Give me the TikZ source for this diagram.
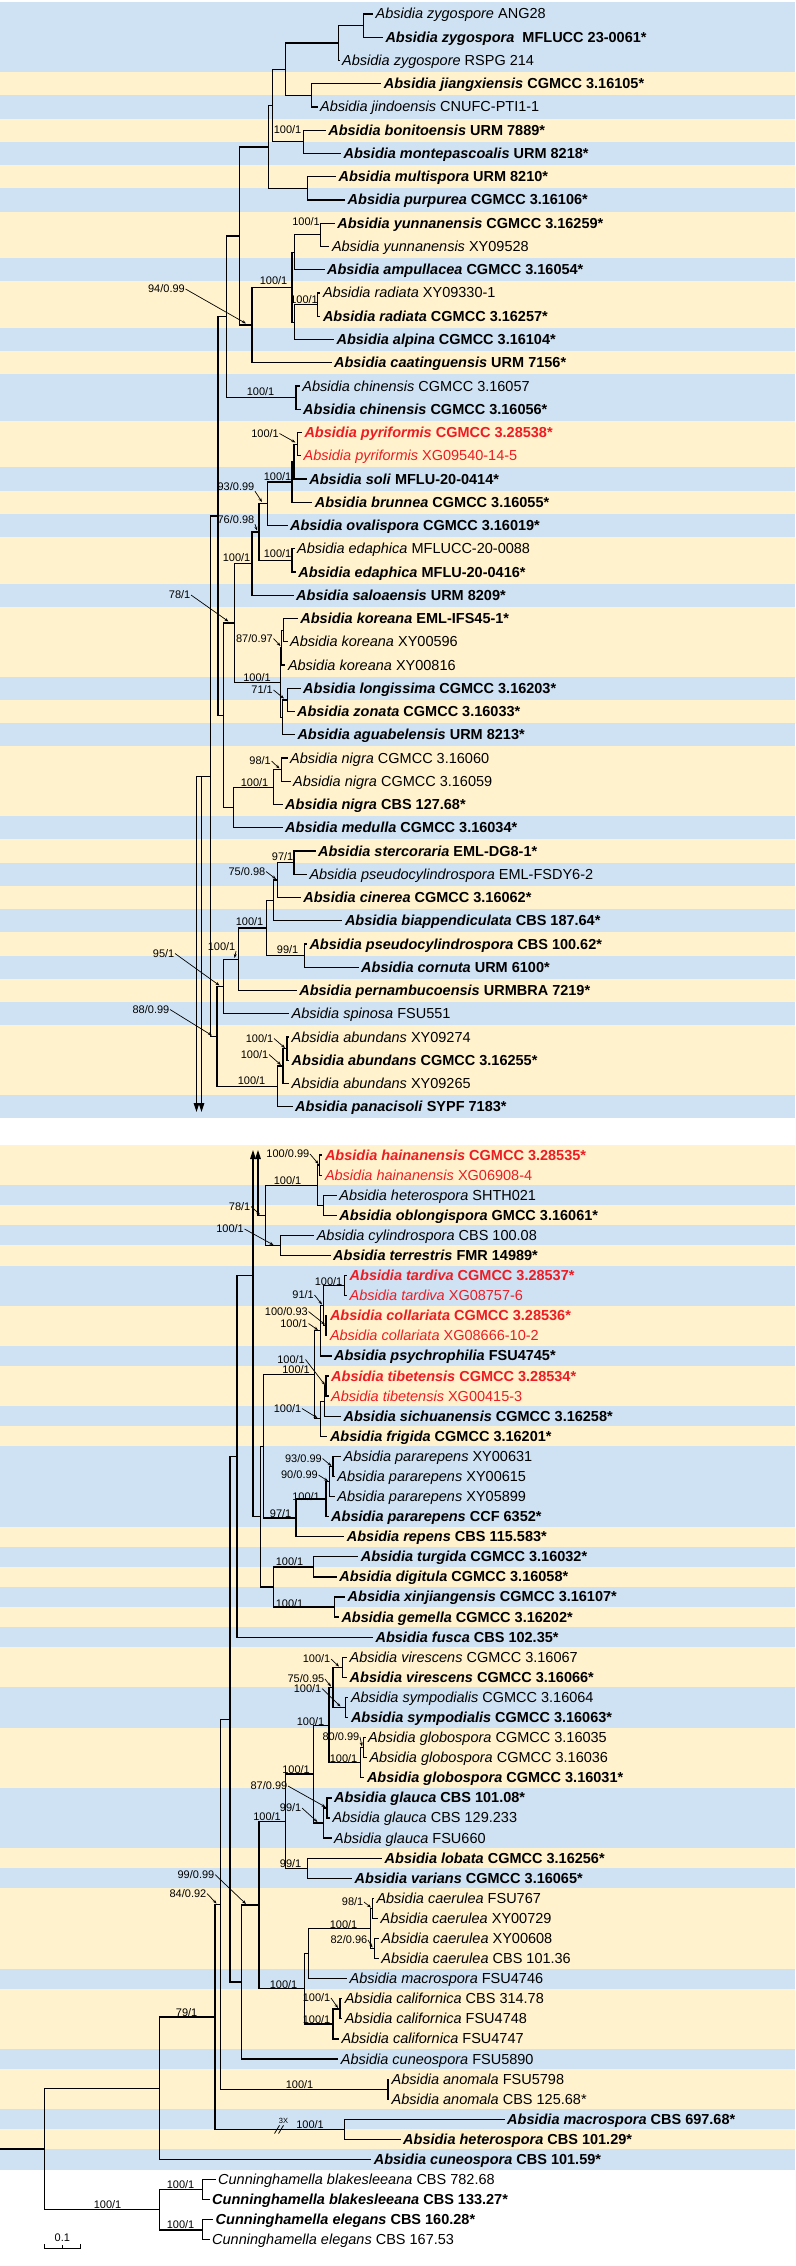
\documentclass[tikz,border=0pt]{standalone}
\usepackage{fontspec}
\setmainfont{Liberation Sans}
\usetikzlibrary{arrows.meta}
\definecolor{bandblue}{RGB}{207,226,243}
\definecolor{bandyel}{RGB}{255,242,204}
\definecolor{newred}{RGB}{237,28,36}
\newcommand{\AbS}[2]{\textit{Absidia #1} #2}
\newcommand{\CuS}[2]{\textit{Cunninghamella #1} #2}
\newcommand{\TLf}[5]{\pgfmathsetmacro{\yyT}{14+23.25*(#2-1)}\node[#5] (#1) at ({#3-3},\yyT) {#4};}
\newcommand{\BLf}[5]{\pgfmathsetmacro{\yyB}{1155+20.09*(#2-1)}\node[#5] (#1) at ({#3-3},\yyB) {#4};}
\newcommand{\TBand}[2]{\fill[bandblue] (0,{2.375+23.25*(#1-1)}) rectangle (795,{2.375+23.25*#2});}
\newcommand{\BBand}[2]{\fill[bandblue] (0,{1144.955+20.09*(#1-1)}) rectangle (795,{1144.955+20.09*#2});}
\newcommand{\ED}[2]{\draw[brl] (#1) |- (#2);}
\begin{document}
\begin{tikzpicture}[x=1pt,y=-1pt,
 brl/.style={line width=1.2pt,line cap=rect},
 leafn/.style={anchor=west,inner xsep=3pt,inner ysep=0pt,text height=13pt,text depth=3pt,font=\fontsize{14.5}{16}\selectfont},
 leafb/.style={leafn,font=\fontsize{14.5}{16}\selectfont\bfseries},
 leafr/.style={leafn,text=newred},
 leafrb/.style={leafb,text=newred},
 supl/.style={anchor=east,inner sep=0.5pt,font=\fontsize{11}{12}\selectfont},
 supa/.style={line width=0.7pt,-{Stealth[length=4pt,width=3pt]}},
 trunk/.style={line width=1.2pt,-{Triangle[length=9pt,width=5.5pt]}}]
\useasboundingbox (0,0) rectangle (795,2266);
\fill[white] (0,0) rectangle (795,2266);
% ---------- bands
\fill[bandyel] (0,2.375) rectangle (795,1118.375);
\TBand{1}{3}\TBand{5}{5}\TBand{7}{7}\TBand{9}{9}\TBand{12}{12}\TBand{15}{15}\TBand{17}{18}\TBand{21}{21}\TBand{23}{23}\TBand{26}{26}\TBand{30}{30}\TBand{32}{32}\TBand{36}{36}\TBand{38}{38}\TBand{40}{40}\TBand{42}{42}\TBand{44}{44}\TBand{48}{48}
\fill[bandyel] (0,1144.955) rectangle (795,2169.545);
\BBand{3}{3}\BBand{5}{5}\BBand{7}{8}\BBand{11}{11}\BBand{14}{14}\BBand{16}{19}\BBand{21}{21}\BBand{23}{23}\BBand{25}{25}\BBand{28}{29}\BBand{33}{35}\BBand{37}{37}\BBand{42}{42}\BBand{46}{46}\BBand{49}{49}\BBand{51}{51}
% ---------- top leaves
\TLf{t1}{1}{375.4}{\AbS{zygospore}{ANG28}}{leafn}
\TLf{t2}{2}{385.3}{\AbS{zygospora}{~MFLUCC 23-0061*}}{leafb}
\TLf{t3}{3}{342}{\AbS{zygospore}{RSPG 214}}{leafn}
\TLf{t4}{4}{383.7}{\AbS{jiangxiensis}{CGMCC 3.16105*}}{leafb}
\TLf{t5}{5}{319.9}{\AbS{jindoensis}{CNUFC-PTI1-1}}{leafn}
\TLf{t6}{6}{328.1}{\AbS{bonitoensis}{URM 7889*}}{leafb}
\TLf{t7}{7}{343.4}{\AbS{montepascoalis}{URM 8218*}}{leafb}
\TLf{t8}{8}{338.4}{\AbS{multispora}{URM 8210*}}{leafb}
\TLf{t9}{9}{347.5}{\AbS{purpurea}{CGMCC 3.16106*}}{leafb}
\TLf{t10}{10}{337.2}{\AbS{yunnanensis}{CGMCC 3.16259*}}{leafb}
\TLf{t11}{11}{331.8}{\AbS{yunnanensis}{XY09528}}{leafn}
\TLf{t12}{12}{326.9}{\AbS{ampullacea}{CGMCC 3.16054*}}{leafb}
\TLf{t13}{13}{322.8}{\AbS{radiata}{XY09330-1}}{leafn}
\TLf{t14}{14}{322.8}{\AbS{radiata}{CGMCC 3.16257*}}{leafb}
\TLf{t15}{15}{336.4}{\AbS{alpina}{CGMCC 3.16104*}}{leafb}
\TLf{t16}{16}{333.9}{\AbS{caatinguensis}{URM 7156*}}{leafb}
\TLf{t17}{17}{302.2}{\AbS{chinensis}{CGMCC 3.16057}}{leafn}
\TLf{t18}{18}{303}{\AbS{chinensis}{CGMCC 3.16056*}}{leafb}
\TLf{t19}{19}{304.3}{\AbS{pyriformis}{CGMCC 3.28538*}}{leafrb}
\TLf{t20}{20}{303.5}{\AbS{pyriformis}{XG09540-14-5}}{leafr}
\TLf{t21}{21}{309.2}{\AbS{soli}{MFLU-20-0414*}}{leafb}
\TLf{t22}{22}{314.6}{\AbS{brunnea}{CGMCC 3.16055*}}{leafb}
\TLf{t23}{23}{289.9}{\AbS{ovalispora}{CGMCC 3.16019*}}{leafb}
\TLf{t24}{24}{296.9}{\AbS{edaphica}{MFLUCC-20-0088}}{leafn}
\TLf{t25}{25}{298.1}{\AbS{edaphica}{MFLU-20-0416*}}{leafb}
\TLf{t26}{26}{296}{\AbS{saloaensis}{URM 8209*}}{leafb}
\TLf{t27}{27}{300.2}{\AbS{koreana}{EML-IFS45-1*}}{leafb}
\TLf{t28}{28}{289.9}{\AbS{koreana}{XY00596}}{leafn}
\TLf{t29}{29}{287.8}{\AbS{koreana}{XY00816}}{leafn}
\TLf{t30}{30}{303}{\AbS{longissima}{CGMCC 3.16203*}}{leafb}
\TLf{t31}{31}{296.9}{\AbS{zonata}{CGMCC 3.16033*}}{leafb}
\TLf{t32}{32}{297.3}{\AbS{aguabelensis}{URM 8213*}}{leafb}
\TLf{t33}{33}{289.9}{\AbS{nigra}{CGMCC 3.16060}}{leafn}
\TLf{t34}{34}{293}{\AbS{nigra}{CGMCC 3.16059}}{leafn}
\TLf{t35}{35}{285}{\AbS{nigra}{CBS 127.68*}}{leafb}
\TLf{t36}{36}{285}{\AbS{medulla}{CGMCC 3.16034*}}{leafb}
\TLf{t37}{37}{317.9}{\AbS{stercoraria}{EML-DG8-1*}}{leafb}
\TLf{t38}{38}{309.3}{\AbS{pseudocylindrospora}{EML-FSDY6-2}}{leafn}
\TLf{t39}{39}{303.2}{\AbS{cinerea}{CGMCC 3.16062*}}{leafb}
\TLf{t40}{40}{344.8}{\AbS{biappendiculata}{CBS 187.64*}}{leafb}
\TLf{t41}{41}{309.3}{\AbS{pseudocylindrospora}{CBS 100.62*}}{leafb}
\TLf{t42}{42}{361}{\AbS{cornuta}{URM 6100*}}{leafb}
\TLf{t43}{43}{299.1}{\AbS{pernambucoensis}{URMBRA 7219*}}{leafb}
\TLf{t44}{44}{291.5}{\AbS{spinosa}{FSU551}}{leafn}
\TLf{t45}{45}{291.5}{\AbS{abundans}{XY09274}}{leafn}
\TLf{t46}{46}{291.5}{\AbS{abundans}{CGMCC 3.16255*}}{leafb}
\TLf{t47}{47}{291.5}{\AbS{abundans}{XY09265}}{leafn}
\TLf{t48}{48}{295}{\AbS{panacisoli}{SYPF 7183*}}{leafb}
% ---------- top internal nodes
\coordinate (nA1) at (363.1,25.6);
\coordinate (nA2) at (338.4,43.1);
\coordinate (nJ1) at (311.7,95.4);
\coordinate (nA3) at (285.8,69.2);
\coordinate (nBo) at (303.5,141.9);
\coordinate (nA4) at (272.6,105.5);
\coordinate (nMu) at (307.6,188.4);
\coordinate (nA5) at (268.5,147);
\coordinate (nYu) at (320.7,234.9);
\coordinate (nC1) at (294.8,252.3);
\coordinate (nRa) at (317.8,304.6);
\coordinate (nC2) at (294.8,322.1);
\coordinate (nC) at (291.9,287.2);
\coordinate (nB) at (252,325);
\coordinate (nA6) at (239.7,236);
\coordinate (nCh) at (296,397.6);
\coordinate (nD) at (226.1,316.8);
\coordinate (nPy) at (297.3,444.1);
\coordinate (nP2) at (294,461.6);
\coordinate (nL) at (292,481.9);
\coordinate (nK) at (267.2,503.7);
\coordinate (nEd) at (292,560.4);
\coordinate (nJ) at (259,532);
\coordinate (nI) at (252,563.6);
\coordinate (nKa) at (283.7,630.1);
\coordinate (nKb) at (281.6,647.6);
\coordinate (nLz) at (287.8,699.9);
\coordinate (nLy) at (282.5,717.3);
\coordinate (nKo) at (280.8,682.4);
\coordinate (nH) at (234.3,623);
\coordinate (nN1) at (281.6,769.6);
\coordinate (nN2) at (273.8,787.1);
\coordinate (nM) at (233.2,807.4);
\coordinate (nG) at (223.2,715.2);
\coordinate (nE) at (217.9,516);
\coordinate (nX) at (294,862.6);
\coordinate (nW) at (277.8,880);
\coordinate (nV) at (273.8,900.4);
\coordinate (nU) at (304.2,955.6);
\coordinate (nT) at (266.2,928);
\coordinate (nS) at (238.8,959.3);
\coordinate (nR) at (223.1,986.5);
\coordinate (nAb1) at (287,1048.6);
\coordinate (nAb2) at (283,1066);
\coordinate (nAb3) at (277.8,1086.4);
\coordinate (nQ) at (217,1036.5);
\coordinate (nF) at (210.4,776.3);
\coordinate (tk2) at (196.5,776.3);
\coordinate (tk3) at (201.5,776.3);
\coordinate (tk2t) at (196.5,1112);
\coordinate (tk3t) at (201.5,1112);
% ---------- top edges
\ED{nA1}{t1.west}\ED{nA1}{t2.west}\ED{nA2}{nA1}\ED{nA2}{t3.west}
\ED{nJ1}{t4.west}\ED{nJ1}{t5.west}\ED{nA3}{nA2}\ED{nA3}{nJ1}
\ED{nBo}{t6.west}\ED{nBo}{t7.west}\ED{nA4}{nA3}\ED{nA4}{nBo}
\ED{nMu}{t8.west}\ED{nMu}{t9.west}\ED{nA5}{nA4}\ED{nA5}{nMu}
\ED{nYu}{t10.west}\ED{nYu}{t11.west}\ED{nC1}{nYu}\ED{nC1}{t12.west}
\ED{nRa}{t13.west}\ED{nRa}{t14.west}\ED{nC2}{nRa}\ED{nC2}{t15.west}
\ED{nC}{nC1}\ED{nC}{nC2}\ED{nB}{nC}\ED{nB}{t16.west}
\ED{nA6}{nA5}\ED{nA6}{nB}
\ED{nCh}{t17.west}\ED{nCh}{t18.west}\ED{nD}{nA6}\ED{nD}{nCh}
\ED{nPy}{t19.west}\ED{nPy}{t20.west}\ED{nP2}{nPy}\ED{nP2}{t21.west}
\ED{nL}{nP2}\ED{nL}{t22.west}\ED{nK}{nL}\ED{nK}{t23.west}
\ED{nEd}{t24.west}\ED{nEd}{t25.west}\ED{nJ}{nK}\ED{nJ}{nEd}
\ED{nI}{nJ}\ED{nI}{t26.west}
\ED{nKa}{t27.west}\ED{nKa}{t28.west}\ED{nKb}{nKa}\ED{nKb}{t29.west}
\ED{nLz}{t30.west}\ED{nLz}{t31.west}\ED{nLy}{nLz}\ED{nLy}{t32.west}
\ED{nKo}{nKb}\ED{nKo}{nLy}\ED{nH}{nI}\ED{nH}{nKo}
\ED{nN1}{t33.west}\ED{nN1}{t34.west}\ED{nN2}{nN1}\ED{nN2}{t35.west}
\ED{nM}{nN2}\ED{nM}{t36.west}\ED{nG}{nH}\ED{nG}{nM}
\ED{nE}{nD}\ED{nE}{nG}
\ED{nX}{t37.west}\ED{nX}{t38.west}\ED{nW}{nX}\ED{nW}{t39.west}
\ED{nV}{nW}\ED{nV}{t40.west}\ED{nU}{t41.west}\ED{nU}{t42.west}
\ED{nT}{nV}\ED{nT}{nU}\ED{nS}{nT}\ED{nS}{t43.west}
\ED{nR}{nS}\ED{nR}{t44.west}
\ED{nAb1}{t45.west}\ED{nAb1}{t46.west}\ED{nAb2}{nAb1}\ED{nAb2}{t47.west}
\ED{nAb3}{nAb2}\ED{nAb3}{t48.west}
\ED{nQ}{nR}\ED{nQ}{nAb3}\ED{nF}{nE}\ED{nF}{nQ}
\draw[brl] (tk2) -- (nF);
\draw[trunk] (tk2) -- (tk2t);
\draw[trunk] (tk3) -- (tk3t);
% ---------- top support values
\node[supl] (s1) at (302,130) {100/1};
\node[supl] (s2) at (320.5,222) {100/1};
\node[supl] (s3) at (288,280.5) {100/1};
\node[supl] (s4) at (318.5,299.5) {100/1};
\node[supl] (s5) at (185.5,289) {94/0.99};
\node[supl] (s6) at (275,391.5) {100/1};
\node[supl] (s7) at (279.5,433.5) {100/1};
\node[supl] (s8) at (292,476.5) {100/1};
\node[supl] (s9) at (255,486.5) {93/0.99};
\node[supl] (s10) at (255,519.5) {76/0.98};
\node[supl] (s11) at (251,558) {100/1};
\node[supl] (s12) at (292,553.5) {100/1};
\node[supl] (s13) at (191,595) {78/1};
\node[supl] (s14) at (273.5,638.5) {87/0.97};
\node[supl] (s15) at (271.5,677.5) {100/1};
\node[supl] (s16) at (273.5,690) {71/1};
\node[supl] (s17) at (271.5,761) {98/1};
\node[supl] (s18) at (269,783) {100/1};
\node[supl] (s19) at (294,856.5) {97/1};
\node[supl] (s20) at (266,871.5) {75/0.98};
\node[supl] (s21) at (264,922) {100/1};
\node[supl] (s22) at (299,949.5) {99/1};
\node[supl] (s23) at (236,946.5) {100/1};
\node[supl] (s24) at (175,953.5) {95/1};
\node[supl] (s25) at (170,1009.5) {88/0.99};
\node[supl] (s26) at (274,1038.5) {100/1};
\node[supl] (s27) at (269,1054.5) {100/1};
\node[supl] (s28) at (266,1080.5) {100/1};
\coordinate (a5) at (246,323.5);
\coordinate (a7) at (295.5,442.5);
\coordinate (a9) at (262,502);
\coordinate (a10) at (257,530.5);
\coordinate (a13) at (228.5,621.5);
\coordinate (a14) at (280.5,646);
\coordinate (a16) at (284,698.5);
\coordinate (a17) at (279.5,768.5);
\coordinate (a20) at (276,879);
\coordinate (a23) at (234.5,958);
\coordinate (a24) at (219.5,985.5);
\coordinate (a25) at (212,1035.5);
\coordinate (a26) at (285,1048);
\coordinate (a27) at (281,1065);
\draw[supa] (s5.east) -- (a5);
\draw[supa] (s7.east) -- (a7);
\draw[supa] (s9.south east) -- (a9);
\draw[supa] (s10.south east) -- (a10);
\draw[supa] (s13.east) -- (a13);
\draw[supa] (s14.east) -- (a14);
\draw[supa] (s16.east) -- (a16);
\draw[supa] (s17.east) -- (a17);
\draw[supa] (s20.east) -- (a20);
\draw[supa] (s23.south east) -- (a23);
\draw[supa] (s24.east) -- (a24);
\draw[supa] (s25.east) -- (a25);
\draw[supa] (s26.east) -- (a26);
\draw[supa] (s27.east) -- (a27);
% ---------- bottom leaves
\BLf{b1}{1}{324.8}{\AbS{hainanensis}{CGMCC 3.28535*}}{leafrb}
\BLf{b2}{2}{324.8}{\AbS{hainanensis}{XG06908-4}}{leafr}
\BLf{b3}{3}{339.2}{\AbS{heterospora}{SHTH021}}{leafn}
\BLf{b4}{4}{339.2}{\AbS{oblongispora}{GMCC 3.16061*}}{leafb}
\BLf{b5}{5}{316.6}{\AbS{cylindrospora}{CBS 100.08}}{leafn}
\BLf{b6}{6}{333}{\AbS{terrestris}{FMR 14989*}}{leafb}
\BLf{b7}{7}{349.5}{\AbS{tardiva}{CGMCC 3.28537*}}{leafrb}
\BLf{b8}{8}{349.5}{\AbS{tardiva}{XG08757-6}}{leafr}
\BLf{b9}{9}{329.8}{\AbS{collariata}{CGMCC 3.28536*}}{leafrb}
\BLf{b10}{10}{329.8}{\AbS{collariata}{XG08666-10-2}}{leafr}
\BLf{b11}{11}{333.9}{\AbS{psychrophilia}{FSU4745*}}{leafb}
\BLf{b12}{12}{331}{\AbS{tibetensis}{CGMCC 3.28534*}}{leafrb}
\BLf{b13}{13}{331}{\AbS{tibetensis}{XG00415-3}}{leafr}
\BLf{b14}{14}{343.4}{\AbS{sichuanensis}{CGMCC 3.16258*}}{leafb}
\BLf{b15}{15}{329.8}{\AbS{frigida}{CGMCC 3.16201*}}{leafb}
\BLf{b16}{16}{343.4}{\AbS{pararepens}{XY00631}}{leafn}
\BLf{b17}{17}{337.2}{\AbS{pararepens}{XY00615}}{leafn}
\BLf{b18}{18}{337.2}{\AbS{pararepens}{XY05899}}{leafn}
\BLf{b19}{19}{331}{\AbS{pararepens}{CCF 6352*}}{leafb}
\BLf{b20}{20}{346.7}{\AbS{repens}{CBS 115.583*}}{leafb}
\BLf{b21}{21}{360.6}{\AbS{turgida}{CGMCC 3.16032*}}{leafb}
\BLf{b22}{22}{339.2}{\AbS{digitula}{CGMCC 3.16058*}}{leafb}
\BLf{b23}{23}{347.5}{\AbS{xinjiangensis}{CGMCC 3.16107*}}{leafb}
\BLf{b24}{24}{341.3}{\AbS{gemella}{CGMCC 3.16202*}}{leafb}
\BLf{b25}{25}{375.4}{\AbS{fusca}{CBS 102.35*}}{leafb}
\BLf{b26}{26}{349.5}{\AbS{virescens}{CGMCC 3.16067}}{leafn}
\BLf{b27}{27}{349.5}{\AbS{virescens}{CGMCC 3.16066*}}{leafb}
\BLf{b28}{28}{350.8}{\AbS{sympodialis}{CGMCC 3.16064}}{leafn}
\BLf{b29}{29}{350.8}{\AbS{sympodialis}{CGMCC 3.16063*}}{leafb}
\BLf{b30}{30}{368}{\AbS{globospora}{CGMCC 3.16035}}{leafn}
\BLf{b31}{31}{369.3}{\AbS{globospora}{CGMCC 3.16036}}{leafn}
\BLf{b32}{32}{366.8}{\AbS{globospora}{CGMCC 3.16031*}}{leafb}
\BLf{b33}{33}{333.9}{\AbS{glauca}{CBS 101.08*}}{leafb}
\BLf{b34}{34}{332.3}{\AbS{glauca}{CBS 129.233}}{leafn}
\BLf{b35}{35}{333.9}{\AbS{glauca}{FSU660}}{leafn}
\BLf{b36}{36}{384.5}{\AbS{lobata}{CGMCC 3.16256*}}{leafb}
\BLf{b37}{37}{354.5}{\AbS{varians}{CGMCC 3.16065*}}{leafb}
\BLf{b38}{38}{376.3}{\AbS{caerulea}{FSU767}}{leafn}
\BLf{b39}{39}{380.4}{\AbS{caerulea}{XY00729}}{leafn}
\BLf{b40}{40}{381.2}{\AbS{caerulea}{XY00608}}{leafn}
\BLf{b41}{41}{381.2}{\AbS{caerulea}{CBS 101.36}}{leafn}
\BLf{b42}{42}{349.5}{\AbS{macrospora}{FSU4746}}{leafn}
\BLf{b43}{43}{344.6}{\AbS{californica}{CBS 314.78}}{leafn}
\BLf{b44}{44}{344.6}{\AbS{californica}{FSU4748}}{leafn}
\BLf{b45}{45}{341.3}{\AbS{californica}{FSU4747}}{leafn}
\BLf{b46}{46}{340.7}{\AbS{cuneospora}{FSU5890}}{leafn}
\BLf{b47}{47}{391.4}{\AbS{anomala}{FSU5798}}{leafn}
\BLf{b48}{48}{391.4}{\AbS{anomala}{CBS 125.68*}}{leafn}
\BLf{b49}{49}{507}{\AbS{macrospora}{CBS 697.68*}}{leafb}
\BLf{b50}{50}{403}{\AbS{heterospora}{CBS 101.29*}}{leafb}
\BLf{b51}{51}{373.6}{\AbS{cuneospora}{CBS 101.59*}}{leafb}
\BLf{b52}{52}{218}{\CuS{blakesleeana}{CBS 782.68}}{leafn}
\BLf{b53}{53}{212}{\CuS{blakesleeana}{CBS 133.27*}}{leafb}
\BLf{b54}{54}{215.5}{\CuS{elegans}{CBS 160.28*}}{leafb}
\BLf{b55}{55}{212}{\CuS{elegans}{CBS 167.53}}{leafn}
% ---------- bottom internal nodes
\coordinate (mHa) at (319.5,1165);
\coordinate (mHO) at (323.6,1205.3);
\coordinate (mH1) at (317.8,1185.1);
\coordinate (mCT) at (280.8,1245.5);
\coordinate (mH2) at (265.2,1215.3);
\coordinate (mTa) at (344.2,1285.6);
\coordinate (mCo) at (326,1325.8);
\coordinate (mTc) at (323.6,1305.7);
\coordinate (mPs) at (320.7,1330.8);
\coordinate (mTi) at (326,1386);
\coordinate (mTb) at (324.8,1401.1);
\coordinate (mFr) at (320.7,1418.7);
\coordinate (mPF) at (314.6,1374.8);
\coordinate (mPa1) at (333,1466.4);
\coordinate (mPa2) at (329.5,1481.5);
\coordinate (mPa3) at (326,1499);
\coordinate (mRe) at (296,1517.9);
\coordinate (mK5) at (263.1,1446.3);
\coordinate (mTu) at (313.7,1566.9);
\coordinate (mXg) at (334.3,1607);
\coordinate (mTX) at (273.4,1587);
\coordinate (mK6) at (260.7,1516.7);
\coordinate (mK1) at (237,1456.5);
\coordinate (mVi) at (342.5,1667.3);
\coordinate (mSy) at (345.4,1707.5);
\coordinate (mN9) at (333,1687.4);
\coordinate (mGl2) at (363.1,1747.7);
\coordinate (mGl) at (360.6,1762.8);
\coordinate (mN8) at (329,1725.1);
\coordinate (mGa2) at (326.9,1808);
\coordinate (mGa1) at (323.6,1823);
\coordinate (mN7) at (313.7,1774);
\coordinate (mLV) at (307.6,1868.2);
\coordinate (mN6) at (285.8,1821.1);
\coordinate (mCa1) at (372.2,1908.4);
\coordinate (mCa2) at (374.2,1948.6);
\coordinate (mCa) at (370.1,1928.5);
\coordinate (mCM) at (308.4,1953.6);
\coordinate (mCf1) at (340,2008.9);
\coordinate (mCf) at (333,2024);
\coordinate (mCC) at (304.3,1988.8);
\coordinate (mN5) at (259,1905);
\coordinate (mN4) at (241.3,1982);
\coordinate (mN3) at (230,1719.3);
\coordinate (mAn) at (387.9,2089.2);
\coordinate (mN2) at (220.5,1904.3);
\coordinate (mMH) at (344.8,2129.4);
\coordinate (mN1) at (215,2016.9);
\coordinate (mN79) at (159.7,2088.2);
\coordinate (mCb) at (202.8,2189.7);
\coordinate (mCe) at (202.8,2229.9);
\coordinate (mCU) at (159.7,2209.8);
\coordinate (mRoot) at (44.6,2149);
\coordinate (mStem) at (0,2149);
\coordinate (c2) at (253,1516.7);
\coordinate (c2k) at (253,1275.7);
\coordinate (c3) at (258,1215.3);
\coordinate (u2t) at (253,1150);
\coordinate (u3t) at (258,1150);
% ---------- bottom edges
\ED{mHa}{b1.west}\ED{mHa}{b2.west}\ED{mHO}{b3.west}\ED{mHO}{b4.west}
\ED{mH1}{mHa}\ED{mH1}{mHO}\ED{mCT}{b5.west}\ED{mCT}{b6.west}
\ED{mH2}{mH1}\ED{mH2}{mCT}
\ED{mTa}{b7.west}\ED{mTa}{b8.west}\ED{mCo}{b9.west}\ED{mCo}{b10.west}
\ED{mTc}{mTa}\ED{mTc}{mCo}\ED{mPs}{mTc}\ED{mPs}{b11.west}
\ED{mTi}{b12.west}\ED{mTi}{b13.west}\ED{mTb}{mTi}\ED{mTb}{b14.west}
\ED{mFr}{mTb}\ED{mFr}{b15.west}\ED{mPF}{mPs}\ED{mPF}{mFr}
\ED{mPa1}{b16.west}\ED{mPa1}{b17.west}\ED{mPa2}{mPa1}\ED{mPa2}{b18.west}
\ED{mPa3}{mPa2}\ED{mPa3}{b19.west}\ED{mRe}{mPa3}\ED{mRe}{b20.west}
\ED{mK5}{mPF}\ED{mK5}{mRe}
\ED{mTu}{b21.west}\ED{mTu}{b22.west}\ED{mXg}{b23.west}\ED{mXg}{b24.west}
\ED{mTX}{mTu}\ED{mTX}{mXg}\ED{mK6}{mK5}\ED{mK6}{mTX}
\ED{mK1}{c2k}\ED{mK1}{b25.west}
\ED{mVi}{b26.west}\ED{mVi}{b27.west}\ED{mSy}{b28.west}\ED{mSy}{b29.west}
\ED{mN9}{mVi}\ED{mN9}{mSy}
\ED{mGl2}{b30.west}\ED{mGl2}{b31.west}\ED{mGl}{mGl2}\ED{mGl}{b32.west}
\ED{mN8}{mN9}\ED{mN8}{mGl}
\ED{mGa2}{b33.west}\ED{mGa2}{b34.west}\ED{mGa1}{mGa2}\ED{mGa1}{b35.west}
\ED{mN7}{mN8}\ED{mN7}{mGa1}
\ED{mLV}{b36.west}\ED{mLV}{b37.west}\ED{mN6}{mN7}\ED{mN6}{mLV}
\ED{mCa1}{b38.west}\ED{mCa1}{b39.west}\ED{mCa2}{b40.west}\ED{mCa2}{b41.west}
\ED{mCa}{mCa1}\ED{mCa}{mCa2}\ED{mCM}{mCa}\ED{mCM}{b42.west}
\ED{mCf1}{b43.west}\ED{mCf1}{b44.west}\ED{mCf}{mCf1}\ED{mCf}{b45.west}
\ED{mCC}{mCM}\ED{mCC}{mCf}\ED{mN5}{mN6}\ED{mN5}{mCC}
\ED{mN4}{mN5}\ED{mN4}{b46.west}\ED{mN3}{mK1}\ED{mN3}{mN4}
\ED{mAn}{b47.west}\ED{mAn}{b48.west}\ED{mN2}{mN3}\ED{mN2}{mAn}
\ED{mMH}{b49.west}\ED{mMH}{b50.west}\ED{mN1}{mN2}\ED{mN1}{mMH}
\ED{mN79}{mN1}\ED{mN79}{b51.west}
\ED{mCb}{b52.west}\ED{mCb}{b53.west}\ED{mCe}{b54.west}\ED{mCe}{b55.west}
\ED{mCU}{mCb}\ED{mCU}{mCe}\ED{mRoot}{mN79}\ED{mRoot}{mCU}
\draw[brl] (mStem) -- (mRoot);
\draw[brl] (c2) -- (mK6);
\draw[brl] (c3) -- (mH2);
\draw[trunk] (c2) -- (u2t);
\draw[trunk] (c3) -- (u3t);
% break mark
\coordinate (bk1a) at (274.5,2133.5);\coordinate (bk1b) at (279.5,2125.3);
\coordinate (bk2a) at (278.5,2133.5);\coordinate (bk2b) at (283.5,2125.3);
\draw[line width=0.8pt] (bk1a) -- (bk1b);
\draw[line width=0.8pt] (bk2a) -- (bk2b);
\node[font=\fontsize{7.5}{8}\selectfont,inner sep=0pt] (x3) at (283.5,2120.5) {3X};
% ---------- bottom support values
\node[supl] (u1) at (310,1154) {100/0.99};
\node[supl] (u2) at (302,1180.5) {100/1};
\node[supl] (u3) at (251,1206.5) {78/1};
\node[supl] (u4) at (244.5,1229) {100/1};
\node[supl] (u5) at (343,1281.5) {100/1};
\node[supl] (u6) at (314.5,1295) {91/1};
\node[supl] (u7) at (308.5,1311.5) {100/0.93};
\node[supl] (u8) at (308.5,1323.5) {100/1};
\node[supl] (u9) at (305.5,1359.5) {100/1};
\node[supl] (u10) at (310.5,1370) {100/1};
\node[supl] (u11) at (302,1408.5) {100/1};
\node[supl] (u12) at (322.5,1458.5) {93/0.99};
\node[supl] (u13) at (318.5,1475) {90/0.99};
\node[supl] (u14) at (320.5,1496.5) {100/1};
\node[supl] (u15) at (292,1514) {97/1};
\node[supl] (u16) at (304,1561.5) {100/1};
\node[supl] (u17) at (304,1603.5) {100/1};
\node[supl] (u18) at (331,1659) {100/1};
\node[supl] (u19) at (325,1679) {75/0.95};
\node[supl] (u20) at (322,1688.5) {100/1};
\node[supl] (u21) at (325,1721.5) {100/1};
\node[supl] (u22) at (360,1737) {80/0.99};
\node[supl] (u23) at (358,1759) {100/1};
\node[supl] (u24) at (310.5,1770) {100/1};
\node[supl] (u25) at (281.5,1816.5) {100/1};
\node[supl] (u26) at (288,1786) {87/0.99};
\node[supl] (u27) at (302,1808) {99/1};
\node[supl] (u28) at (302,1864) {99/1};
\node[supl] (u29) at (215,1874.5) {99/0.99};
\node[supl] (u30) at (207,1893.5) {84/0.92};
\node[supl] (u31) at (364,1902) {98/1};
\node[supl] (u32) at (358,1925) {100/1};
\node[supl] (u33) at (368,1940) {82/0.96};
\node[supl] (u34) at (298,1985) {100/1};
\node[supl] (u35) at (331,1998) {100/1};
\node[supl] (u36) at (331,2020) {100/1};
\node[supl] (u37) at (198,2012.5) {79/1};
\node[supl] (u38) at (314,2085) {100/1};
\node[supl] (u40) at (324.5,2125) {100/1};
\node[supl] (u41) at (195,2185) {100/1};
\node[supl] (u42) at (195,2225) {100/1};
\node[supl] (u43) at (122,2205) {100/1};
\coordinate (v1) at (318.5,1164);
\coordinate (v3) at (260,1214.5);
\coordinate (v4) at (273.5,1245);
\coordinate (v6) at (322,1304.5);
\coordinate (v7) at (325,1324.5);
\coordinate (v8) at (318,1330);
\coordinate (v9) at (325,1385);
\coordinate (v11) at (317.5,1418);
\coordinate (v12) at (331.5,1466);
\coordinate (v13) at (328,1481);
\coordinate (v18) at (339,1666.5);
\coordinate (v19) at (331,1686.5);
\coordinate (v20) at (340.5,1706.5);
\coordinate (v22) at (362,1746.5);
\coordinate (v26) at (325.5,1807);
\coordinate (v27) at (317.5,1822);
\coordinate (v29) at (246,1904);
\coordinate (v30) at (216.5,1903.5);
\coordinate (v31) at (371,1907.5);
\coordinate (v33) at (372.5,1947.5);
\coordinate (v35) at (338,2008);
\draw[supa] (u1.east) -- (v1);
\draw[supa] (u3.east) -- (v3);
\draw[supa] (u4.east) -- (v4);
\draw[supa] (u6.east) -- (v6);
\draw[supa] (u7.east) -- (v7);
\draw[supa] (u8.east) -- (v8);
\draw[supa] (u9.east) -- (v9);
\draw[supa] (u11.east) -- (v11);
\draw[supa] (u12.east) -- (v12);
\draw[supa] (u13.east) -- (v13);
\draw[supa] (u18.east) -- (v18);
\draw[supa] (u19.east) -- (v19);
\draw[supa] (u20.east) -- (v20);
\draw[supa] (u22.east) -- (v22);
\draw[supa] (u26.east) -- (v26);
\draw[supa] (u27.east) -- (v27);
\draw[supa] (u29.east) -- (v29);
\draw[supa] (u30.east) -- (v30);
\draw[supa] (u31.east) -- (v31);
\draw[supa] (u33.east) -- (v33);
\draw[supa] (u35.east) -- (v35);
% ---------- scale bar
\coordinate (sb1) at (44.6,2248);
\coordinate (sbm) at (62.35,2248);
\coordinate (sb2) at (80.1,2248);
\coordinate (sb1u) at (44.6,2244);
\coordinate (sbmu) at (62.35,2244.5);
\coordinate (sb2u) at (80.1,2244);
\draw[line width=0.8pt] (sb1u) -- (sb1) -- (sb2) -- (sb2u);
\draw[line width=0.8pt] (sbm) -- (sbmu);
\node[font=\fontsize{11}{12}\selectfont,inner sep=0pt] (sbl) at (62.3,2238) {0.1};
\end{tikzpicture}
\end{document}
